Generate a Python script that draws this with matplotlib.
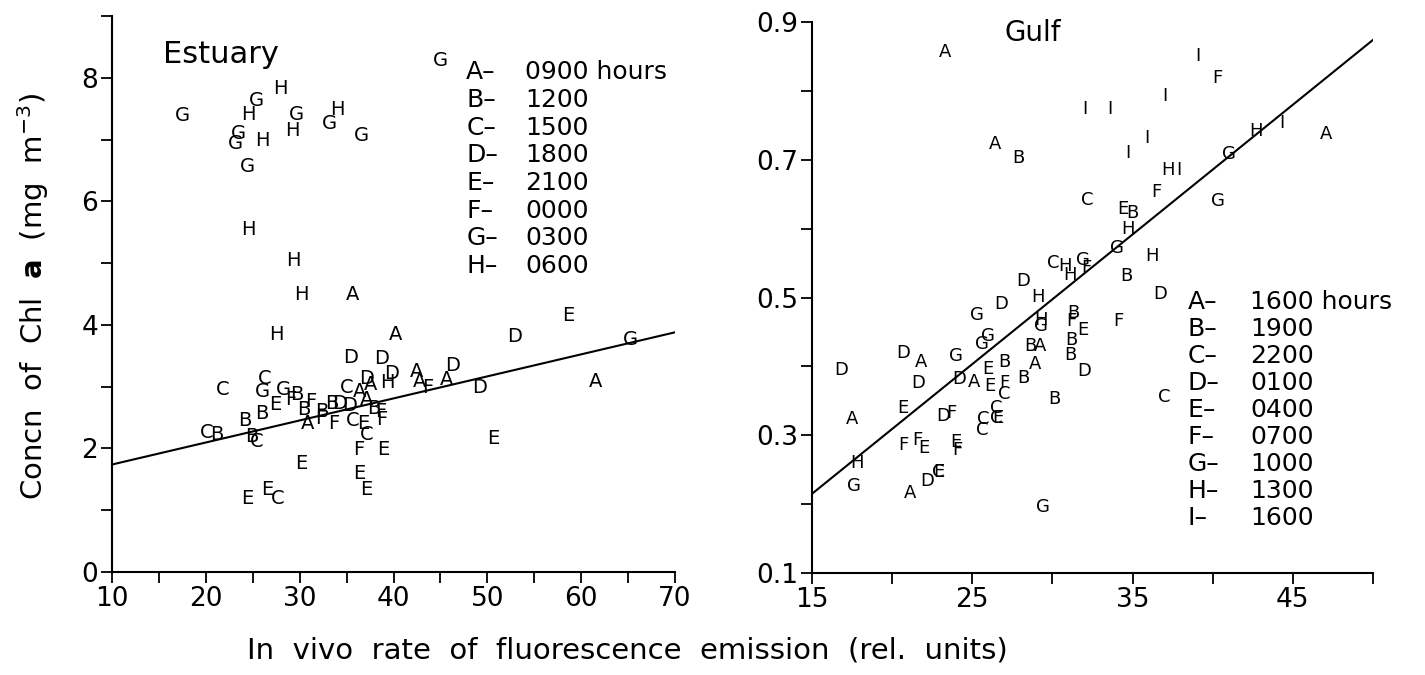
import matplotlib
matplotlib.use("Agg")
import matplotlib.pyplot as plt
import numpy as np
from matplotlib.ticker import MultipleLocator

# Estuary panel: sample letter (time code), x = fluorescence, y = Chl a
est_code = list("AAAAAAAAAA" "BBBBBBBBB" "CCCCCCCC" "DDDDDDDDD"
                "EEEEEEEEEE" "FFFFFFFF" "GGGGGGGGGGGG" "HHHHHHHHHH")
est_x = [35.6, 40.2, 37.6, 36.4, 37.1, 30.8, 42.5, 42.8, 45.7, 61.5,
         26.0, 24.2, 30.4, 32.4, 33.4, 37.9, 21.2, 24.9, 29.7,
         21.8, 26.3, 35.0, 35.6, 37.1, 20.1, 25.4, 27.7,
         35.4, 38.7, 39.8, 37.1, 52.9, 46.3, 49.2, 34.3, 35.3,
         27.4, 36.8, 38.9, 36.3, 37.1, 30.2, 24.4, 26.5, 58.6, 50.6,
         31.2, 32.2, 33.6, 38.6, 36.3, 43.7, 29.0, 38.7,
         45.0, 25.4, 17.5, 29.7, 33.2, 36.6, 23.5, 23.2, 24.4, 26.0, 28.3, 65.2,
         27.9, 24.5, 34.0, 29.2, 26.0, 24.5, 29.3, 30.2, 27.5, 39.3]
est_y = [4.49, 3.85, 3.03, 2.92, 2.79, 2.41, 3.25, 3.08, 3.11, 3.08,
         2.57, 2.46, 2.63, 2.60, 2.73, 2.65, 2.22, 2.19, 2.88,
         2.95, 3.13, 2.98, 2.46, 2.22, 2.25, 2.12, 1.19,
         3.47, 3.45, 3.22, 3.14, 3.81, 3.34, 2.99, 2.73, 2.70,
         2.71, 2.41, 1.98, 1.60, 1.33, 1.76, 1.19, 1.33, 4.16, 2.16,
         2.76, 2.49, 2.41, 2.60, 1.98, 2.98, 2.80, 2.47,
         8.28, 7.64, 7.39, 7.41, 7.26, 7.06, 7.09, 6.93, 6.57, 2.92, 2.95, 3.77,
         7.82, 7.41, 7.49, 7.14, 6.98, 5.55, 5.04, 4.49, 3.84, 3.06]
est_fit = (1.383, 0.03567)  # intercept, slope
est_keys = list("ABCDEFGH")
est_times = ["0900 hours", "1200", "1500", "1800", "2100", "0000", "0300", "0600"]

# Gulf panel
gulf_code = list("AAAAAAAAA" "BBBBBBBBBB" "CCCCCCCCC" "DDDDDDDDDD"
                 "EEEEEEEEE" "FFFFFFFFFF" "GGGGGGGGGGG" "HHHHHHHHH" "IIIIIIII")
gulf_x = [23.3, 26.4, 17.5, 21.8, 21.1, 25.1, 29.2, 28.9, 47.1,
          27.9, 35.0, 34.6, 27.0, 28.6, 28.2, 30.1, 31.3, 31.2, 31.1,
          32.2, 30.05, 37.0, 22.9, 27.0, 26.5, 26.5, 25.7, 25.6,
          16.85, 20.7, 21.6, 22.2, 24.2, 23.2, 26.8, 28.2, 36.7, 32.0,
          34.4, 20.7, 22.0, 22.9, 24.0, 26.0, 26.1, 26.6, 31.9,
          40.3, 36.5, 34.1, 20.7, 21.6, 23.7, 24.1, 27.0, 32.1, 31.2,
          34.0, 41.0, 40.3, 17.6, 24.0, 25.3, 25.6, 26.0, 29.3, 29.4, 31.9,
          34.7, 36.2, 37.2, 42.7, 17.8, 29.1, 29.3, 30.8, 31.1,
          32.0, 33.6, 39.1, 37.0, 35.9, 34.7, 37.9, 44.3]
gulf_y = [0.856, 0.7225, 0.323, 0.407, 0.216, 0.378, 0.429, 0.403, 0.737,
          0.703, 0.622, 0.531, 0.407, 0.429, 0.383, 0.352, 0.478, 0.439, 0.417,
          0.641, 0.550, 0.356, 0.247, 0.360, 0.340, 0.325, 0.323, 0.308,
          0.395, 0.420, 0.376, 0.233, 0.381, 0.328, 0.490, 0.524, 0.505, 0.393,
          0.629, 0.340, 0.281, 0.247, 0.290, 0.396, 0.371, 0.325, 0.453,
          0.818, 0.653, 0.466, 0.286, 0.293, 0.332, 0.279, 0.376, 0.543, 0.466,
          0.572, 0.708, 0.640, 0.226, 0.415, 0.475, 0.433, 0.444, 0.459, 0.196, 0.555,
          0.599, 0.560, 0.685, 0.742, 0.260, 0.501, 0.468, 0.546, 0.533,
          0.773, 0.773, 0.851, 0.793, 0.732, 0.710, 0.685, 0.754]
gulf_fit = (-0.0675, 0.01883)
gulf_keys = list("ABCDEFGHI")
gulf_times = ["1600 hours", "1900", "2200", "0100", "0400", "0700", "1000", "1300", "1600"]

plt.rcParams["font.family"] = ["DejaVu Sans"]
plt.rcParams["mathtext.fontset"] = "dejavusans"

fig = plt.figure(figsize=(14.25, 6.75), dpi=100)
ax1 = fig.add_axes([0.0786, 0.1526, 0.3951, 0.8237])
ax2 = fig.add_axes([0.5698, 0.1511, 0.3937, 0.8163])


def style(ax, xlim, ylim, xmaj, xmin, ymaj, ymin):
    ax.set_xlim(*xlim)
    ax.set_ylim(*ylim)
    for s in ["top", "right"]:
        ax.spines[s].set_visible(False)
    for s in ["left", "bottom"]:
        ax.spines[s].set_linewidth(1.5)
    ax.xaxis.set_major_locator(MultipleLocator(xmaj))
    ax.xaxis.set_minor_locator(MultipleLocator(xmin))
    ax.yaxis.set_major_locator(MultipleLocator(ymaj))
    ax.yaxis.set_minor_locator(MultipleLocator(ymin))
    ax.tick_params(which="both", direction="out", length=8, width=1.3,
                   labelsize=19, pad=2)


def draw(ax, codes, xs, ys, fit, size):
    for c, x, y in zip(codes, xs, ys):
        ax.text(x, y, c, ha="center", va="center", fontsize=size, clip_on=False)
    xl = np.array(ax.get_xlim())
    ax.plot(xl, fit[0] + fit[1] * xl, color="black", lw=1.5)


style(ax1, (10, 70), (0, 9), 10, 5, 2, 1)
style(ax2, (15, 50), (0.1, 0.9), 10, 5, 0.2, 0.1)
ax2.set_xticks([15, 25, 35, 45])
ax2.set_yticks([0.1, 0.3, 0.5, 0.7, 0.9])
ax2.set_yticklabels(["0.1", "0.3", "0.5", "0.7", "0.9"])

draw(ax1, est_code, est_x, est_y, est_fit, 14)
draw(ax2, gulf_code, gulf_x, gulf_y, gulf_fit, 13)

ax1.text(0.09, 0.93, "Estuary", transform=ax1.transAxes, fontsize=22,
         ha="left", va="center")
ax2.text(0.344, 0.98, "Gulf", transform=ax2.transAxes, fontsize=20,
         ha="left", va="center")

# legends
for i, (k, t) in enumerate(zip(est_keys, est_times)):
    yy = 0.899 - i * 0.0498
    ax1.text(0.629, yy, k + "\u2013", transform=ax1.transAxes, fontsize=18,
             ha="left", va="center")
    ax1.text(0.734, yy, t, transform=ax1.transAxes, fontsize=18,
             ha="left", va="center")
for i, (k, t) in enumerate(zip(gulf_keys, gulf_times)):
    yy = 0.492 - i * 0.049
    ax2.text(0.670, yy, k + "\u2013", transform=ax2.transAxes, fontsize=18,
             ha="left", va="center")
    ax2.text(0.781, yy, t, transform=ax2.transAxes, fontsize=18,
             ha="left", va="center")

fig.text(0.023, 0.56, r"Concn  of  Chl  $\mathbf{a}$  (mg  m$^{-3}$)", rotation=90,
         fontsize=21, ha="center", va="center")
fig.text(0.44, 0.037, "In  vivo  rate  of  fluorescence  emission  (rel.  units)",
         fontsize=21, ha="center", va="center")

fig.savefig("out.png", dpi=100)
